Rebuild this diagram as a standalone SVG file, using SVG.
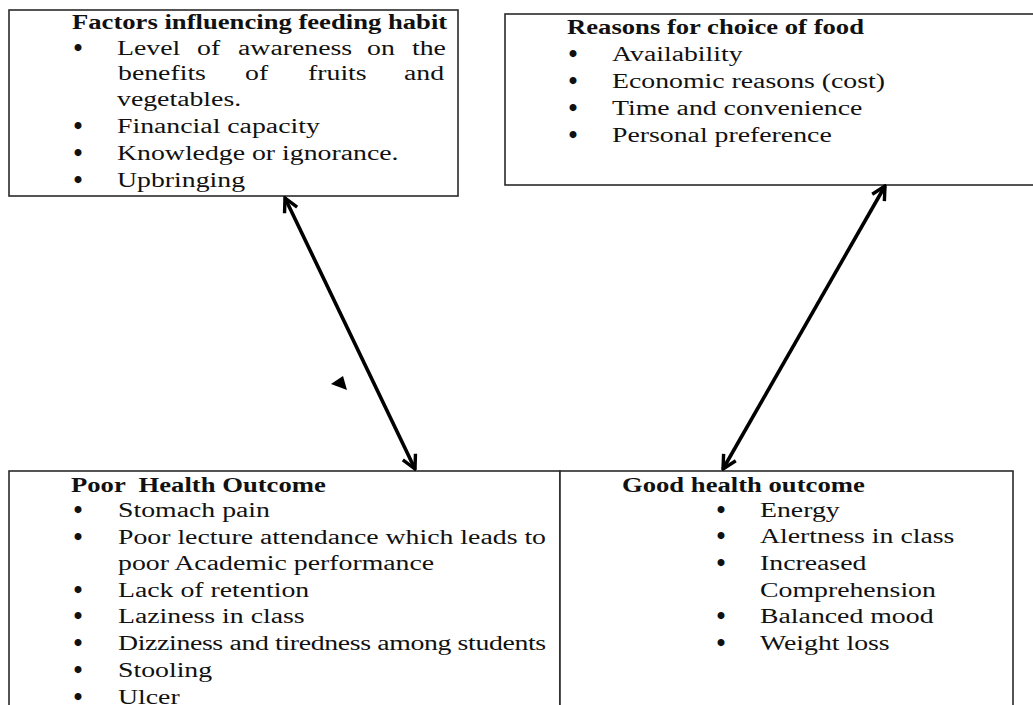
<svg xmlns="http://www.w3.org/2000/svg" width="1033" height="705" viewBox="0 0 1033 705">
<style>
.box{fill:#fff;stroke:#2a2a2a;stroke-width:1.6}
.t{font-family:"Liberation Serif","Times New Roman",serif;font-size:20.5px;fill:#111}
.h{font-weight:bold}
.bu{font-family:"Liberation Serif","Times New Roman",serif;font-size:20px;fill:#111;stroke:#111;stroke-width:2.2;text-anchor:middle}
.con{stroke:#000;stroke-width:3.6;fill:none}
</style>
<defs>
<marker id="ah" viewBox="0 0 18 18" refX="16" refY="9" markerWidth="18" markerHeight="18" markerUnits="userSpaceOnUse" orient="auto-start-reverse">
<path d="M2.5,2 L16,9 L2.5,16" fill="none" stroke="#000" stroke-width="3.4" stroke-linejoin="miter"/>
</marker>
</defs>
<rect width="1033" height="705" fill="#fff"/>

<g id="factors">
<rect class="box" x="9" y="10" width="449" height="186"/>
<text class="t h" transform="translate(72 29) scale(1.3 1)">Factors influencing feeding habit</text>
<text class="bu" x="78" y="55">•</text>
<text class="t" transform="translate(117 55) scale(1.355 1)">Level</text>
<text class="t" transform="translate(197 55) scale(1.355 1)">of</text>
<text class="t" transform="translate(238 55) scale(1.355 1)">awareness</text>
<text class="t" transform="translate(367 55) scale(1.355 1)">on</text>
<text class="t" transform="translate(412 55) scale(1.355 1)">the</text>
<text class="t" transform="translate(118 80) scale(1.355 1)">benefits</text>
<text class="t" transform="translate(245 80) scale(1.355 1)">of</text>
<text class="t" transform="translate(308 80) scale(1.355 1)">fruits</text>
<text class="t" transform="translate(404 80) scale(1.355 1)">and</text>
<text class="t" transform="translate(117 106) scale(1.355 1)">vegetables.</text>
<text class="bu" x="78" y="133">•</text>
<text class="t" transform="translate(117 133) scale(1.355 1)">Financial capacity</text>
<text class="bu" x="78" y="160">•</text>
<text class="t" transform="translate(117 160) scale(1.355 1)">Knowledge or ignorance.</text>
<text class="bu" x="78" y="187">•</text>
<text class="t" transform="translate(117 187) scale(1.355 1)">Upbringing</text>
</g>

<g id="reasons">
<rect class="box" x="505" y="14" width="540" height="171"/>
<text class="t h" transform="translate(567 34) scale(1.3 1)">Reasons for choice of food</text>
<text class="bu" x="573" y="61">•</text>
<text class="t" transform="translate(612 61) scale(1.355 1)">Availability</text>
<text class="bu" x="573" y="88">•</text>
<text class="t" transform="translate(612 88) scale(1.355 1)">Economic reasons (cost)</text>
<text class="bu" x="573" y="115">•</text>
<text class="t" transform="translate(612 115) scale(1.355 1)">Time and convenience</text>
<text class="bu" x="573" y="142">•</text>
<text class="t" transform="translate(612 142) scale(1.355 1)">Personal preference</text>
</g>

<g id="poor">
<rect class="box" x="9" y="471" width="551" height="260"/>
<text class="t h" xml:space="preserve" style="white-space:pre" transform="translate(71 492) scale(1.3 1)">Poor  Health Outcome</text>
<text class="bu" x="78" y="517">•</text>
<text class="t" transform="translate(118 517) scale(1.355 1)">Stomach pain</text>
<text class="bu" x="78" y="544">•</text>
<text class="t" transform="translate(118 544) scale(1.355 1)">Poor lecture attendance which leads to</text>
<text class="t" transform="translate(118 570) scale(1.355 1)">poor Academic performance</text>
<text class="bu" x="78" y="597">•</text>
<text class="t" transform="translate(118 597) scale(1.355 1)">Lack of retention</text>
<text class="bu" x="78" y="623">•</text>
<text class="t" transform="translate(118 623) scale(1.355 1)">Laziness in class</text>
<text class="bu" x="78" y="650">•</text>
<text class="t" textLength="316" lengthAdjust="spacing" transform="translate(118 650) scale(1.355 1)">Dizziness and tiredness among students</text>
<text class="bu" x="78" y="677">•</text>
<text class="t" transform="translate(118 677) scale(1.355 1)">Stooling</text>
<text class="bu" x="78" y="704">•</text>
<text class="t" transform="translate(118 704) scale(1.355 1)">Ulcer</text>
</g>

<g id="good">
<rect class="box" x="560" y="471" width="453" height="260"/>
<text class="t h" transform="translate(622 492) scale(1.3 1)">Good health outcome</text>
<text class="bu" x="721" y="517">•</text>
<text class="t" transform="translate(760 517) scale(1.355 1)">Energy</text>
<text class="bu" x="721" y="543">•</text>
<text class="t" transform="translate(760 543) scale(1.355 1)">Alertness in class</text>
<text class="bu" x="721" y="570">•</text>
<text class="t" transform="translate(760 570) scale(1.355 1)">Increased</text>
<text class="t" transform="translate(760 597) scale(1.355 1)">Comprehension</text>
<text class="bu" x="721" y="623">•</text>
<text class="t" transform="translate(760 623) scale(1.355 1)">Balanced mood</text>
<text class="bu" x="721" y="650">•</text>
<text class="t" transform="translate(760 650) scale(1.355 1)">Weight loss</text>
</g>

<g id="connectors">
<line class="con" x1="285" y1="198" x2="415" y2="469" marker-start="url(#ah)" marker-end="url(#ah)"/>
<line class="con" x1="885" y1="186" x2="723" y2="469" marker-start="url(#ah)" marker-end="url(#ah)"/>
<polygon points="331,384 343,376 347,390" fill="#000"/>
</g>
</svg>
